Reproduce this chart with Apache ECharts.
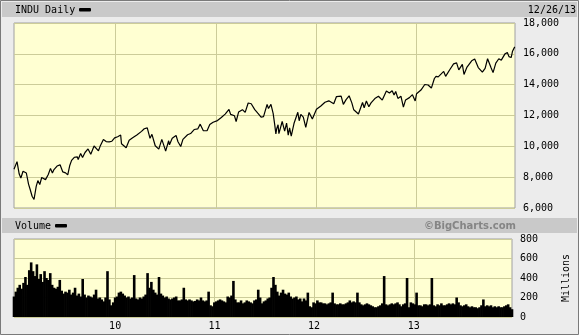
<!DOCTYPE html>
<html>
<head>
<meta charset="utf-8">
<script src="https://cdn.jsdelivr.net/npm/echarts@6/dist/echarts.min.js"></script>
<style>
html, body { margin: 0; padding: 0; background: #ececec; }
#chart { width: 579px; height: 335px; }
</style>
</head>
<body>
<div id="chart"></div>
<script>
// DJIA daily close (dates / values)
var priceDates = [
    '2008-12-26', '2008-12-31', '2009-01-06', '2009-01-14', '2009-01-20', '2009-01-28', '2009-02-09', '2009-02-17',
    '2009-02-23', '2009-03-02', '2009-03-09', '2009-03-17', '2009-03-23', '2009-03-30', '2009-04-06', '2009-04-20',
    '2009-04-30', '2009-05-08', '2009-05-15', '2009-05-20', '2009-06-01', '2009-06-12', '2009-06-22', '2009-07-02',
    '2009-07-10', '2009-07-17', '2009-07-24', '2009-08-03', '2009-08-14', '2009-08-17', '2009-08-26', '2009-09-02',
    '2009-09-11', '2009-09-22', '2009-10-02', '2009-10-14', '2009-10-19', '2009-10-30', '2009-11-05', '2009-11-17',
    '2009-11-27', '2009-12-08', '2009-12-18', '2009-12-28', '2010-01-08', '2010-01-19', '2010-01-22', '2010-02-08',
    '2010-02-19', '2010-03-05', '2010-03-19', '2010-04-05', '2010-04-15', '2010-04-26', '2010-05-06', '2010-05-13',
    '2010-05-25', '2010-06-07', '2010-06-18', '2010-06-29', '2010-07-02', '2010-07-13', '2010-07-16', '2010-07-26',
    '2010-08-09', '2010-08-16', '2010-08-26', '2010-09-03', '2010-09-20', '2010-10-01', '2010-10-14', '2010-10-27',
    '2010-11-05', '2010-11-16', '2010-11-30', '2010-12-10', '2010-12-22', '2011-01-07', '2011-01-21', '2011-02-04',
    '2011-02-18', '2011-02-24', '2011-03-10', '2011-03-16', '2011-03-25', '2011-04-08', '2011-04-18', '2011-04-29',
    '2011-05-10', '2011-05-23', '2011-06-03', '2011-06-15', '2011-06-24', '2011-07-07', '2011-07-12', '2011-07-21',
    '2011-07-29', '2011-08-04', '2011-08-08', '2011-08-11', '2011-08-16', '2011-08-19', '2011-08-31', '2011-09-09',
    '2011-09-16', '2011-09-22', '2011-09-27', '2011-10-03', '2011-10-13', '2011-10-27', '2011-11-01', '2011-11-07',
    '2011-11-16', '2011-11-25', '2011-12-07', '2011-12-19', '2012-01-03', '2012-01-19', '2012-02-03', '2012-02-17',
    '2012-03-06', '2012-03-16', '2012-04-02', '2012-04-10', '2012-04-20', '2012-05-01', '2012-05-11', '2012-05-18',
    '2012-06-04', '2012-06-19', '2012-06-25', '2012-07-03', '2012-07-12', '2012-07-20', '2012-08-03', '2012-08-16',
    '2012-08-30', '2012-09-14', '2012-09-25', '2012-10-05', '2012-10-12', '2012-10-18', '2012-10-26', '2012-11-06',
    '2012-11-15', '2012-11-23', '2012-12-07', '2012-12-18', '2012-12-28', '2013-01-02', '2013-01-18', '2013-02-01',
    '2013-02-13', '2013-02-25', '2013-03-08', '2013-03-14', '2013-03-22', '2013-04-11', '2013-04-18', '2013-05-03',
    '2013-05-17', '2013-05-28', '2013-06-05', '2013-06-12', '2013-06-18', '2013-06-24', '2013-07-05', '2013-07-22',
    '2013-08-02', '2013-08-15', '2013-08-30', '2013-09-09', '2013-09-18', '2013-09-30', '2013-10-08', '2013-10-18',
    '2013-10-29', '2013-11-07', '2013-11-21', '2013-11-29', '2013-12-05', '2013-12-13', '2013-12-18', '2013-12-26'
]
var priceValues = [
    8515, 8580, 9010, 8200, 7950, 8380, 8270, 7550,
    7200, 6760, 6550, 7400, 7780, 7520, 7980, 7840,
    8170, 8570, 8270, 8470, 8720, 8800, 8340, 8280,
    8150, 8740, 9090, 9290, 9320, 9140, 9540, 9280,
    9600, 9830, 9490, 10020, 10090, 9710, 10000, 10440,
    10310, 10290, 10330, 10550, 10620, 10730, 10170, 9910,
    10400, 10570, 10740, 10970, 11140, 11200, 10520, 10780,
    10040, 9820, 10450, 9870, 9690, 10360, 10100, 10530,
    10700, 10300, 9990, 10450, 10750, 10830, 11090, 11130,
    11440, 11020, 11010, 11410, 11560, 11670, 11870, 12090,
    12390, 12070, 11980, 11610, 12220, 12380, 12200, 12810,
    12760, 12380, 12150, 11900, 11930, 12720, 12450, 12720,
    12140, 11380, 10810, 11140, 11400, 10820, 11610, 10990,
    11510, 10730, 11190, 10660, 11480, 12210, 11660, 12070,
    11900, 11230, 12200, 11770, 12400, 12620, 12860, 12950,
    12760, 13230, 13260, 12720, 13030, 13280, 12820, 12370,
    12100, 12840, 12500, 12940, 12570, 12820, 13100, 13250,
    13000, 13590, 13460, 13610, 13330, 13560, 13110, 13250,
    12540, 13010, 13160, 13350, 12940, 13410, 13650, 14010,
    13980, 13780, 14400, 14540, 14510, 14860, 14540, 14970,
    15350, 15410, 14960, 14990, 15320, 14660, 15140, 15550,
    15660, 15110, 14810, 15060, 15680, 15130, 14780, 15400,
    15680, 15590, 16010, 16090, 15820, 15760, 16170, 16450
]

// weekly volume (millions), first week ending 2008-12-26
var volStart = '2008-12-26'
var volValues = [
    210, 260, 300, 330, 290,
    350, 410, 330, 480,
    560, 470, 420, 540, 390,
    440, 360, 470, 400,
    380, 450, 330, 300,
    290, 310, 380, 270,
    240, 260, 250, 280, 230,
    250, 300, 220, 240,
    210, 390, 230, 200,
    220, 210, 200, 230, 280,
    190, 200, 180, 160,
    200, 470, 180, 120, 150,
    200, 210, 250, 260,
    240, 220, 200, 210,
    190, 200, 430, 190,
    180, 200, 190, 210, 230,
    450, 300, 360, 280,
    250, 230, 410, 240,
    220, 200, 210, 190, 180,
    190, 200, 210, 170,
    170, 180, 300, 180,
    170, 180, 170, 160, 165,
    180, 170, 200, 170,
    160, 170, 260, 120, 110,
    150, 160, 170, 180,
    170, 160, 150, 210,
    200, 220, 370, 180,
    150, 150, 170, 140, 150,
    170, 160, 150, 140,
    170, 180, 280, 200,
    140, 160, 170, 190, 200,
    300, 410, 330, 260,
    220, 250, 280, 240, 230,
    250, 210, 190, 200,
    210, 180, 190, 160,
    190, 170, 250, 110, 100,
    150, 140, 170, 150,
    150, 140, 140, 130,
    140, 150, 250, 140, 130,
    130, 140, 130, 130,
    140, 150, 170, 150,
    160, 150, 250, 150, 130,
    120, 130, 140, 130,
    120, 110, 100, 100, 110,
    120, 140, 420, 130,
    120, 130, 140, 130,
    140, 150, 130, 110,
    130, 140, 400, 100, 150,
    140, 130, 250, 120,
    120, 110, 130, 130,
    120, 130, 400, 120, 110,
    130, 120, 140, 120,
    120, 130, 140, 130,
    140, 130, 200, 150, 120,
    110, 120, 130, 110,
    100, 110, 100, 100, 90,
    100, 120, 180, 110,
    120, 110, 120, 100, 110,
    100, 110, 100, 100,
    110, 120, 130, 100, 80
]

var yearTicks = ['2010-01-01', '2011-01-01', '2012-01-01', '2013-01-01']
var xMin = '2008-12-26'
var xMax = '2013-12-27'

var monoFont = 'DejaVu Sans Mono'
var gridColor = '#cccc99'
var plotBg = '#ffffd2'

function ts (s) {
    return +new Date(s + 'T00:00:00')
}

var priceData = priceDates.map(function (d, i) {
    return [ts(d), priceValues[i]]
})
var volData = volValues.map(function (v, i) {
    return [ts(volStart) + i * 7 * 24 * 3600 * 1000, v]
})
var tickTs = yearTicks.map(ts)

var myChart = echarts.init(document.getElementById('chart'))

// x is a plain value axis in ms, year lines come from customValues
function xAxisOf (idx, showLabel) {
    return {
        type: 'value',
        gridIndex: idx,
        min: ts(xMin),
        max: ts(xMax),
        axisLine: { show: false },
        axisTick: { show: false, customValues: tickTs },
        axisLabel: {
            show: showLabel,
            customValues: tickTs,
            margin: 4,
            fontFamily: monoFont,
            fontSize: 10,
            color: '#000',
            formatter: function (v) {
                return String(new Date(v).getFullYear()).slice(2)
            }
        },
        splitLine: { show: true, lineStyle: { color: gridColor, width: 1 } }
    }
}

var option = {
    animation: false,
    backgroundColor: '#ececec',
    graphic: [
        // outer frame and header bars
        { type: 'rect', shape: { x: 0.5, y: 0.5, width: 578, height: 334 }, style: { fill: 'none', stroke: '#7a7a7a', lineWidth: 1 }, z: 100 },
        { type: 'rect', shape: { x: 2, y: 2, width: 575, height: 15 }, style: { fill: '#c9c9c9' } },
        { type: 'rect', shape: { x: 2, y: 218, width: 575, height: 15 }, style: { fill: '#c9c9c9' } },
        { type: 'text', x: 15, y: 10, style: { text: 'INDU Daily', font: '10px ' + monoFont, fill: '#000', verticalAlign: 'middle' } },
        { type: 'rect', shape: { x: 79, y: 8, width: 12, height: 3.5, r: 1 }, style: { fill: '#000' } },
        { type: 'text', x: 576, y: 10, style: { text: '12/26/13', font: '10px ' + monoFont, fill: '#000', align: 'right', verticalAlign: 'middle' } },
        { type: 'text', x: 15, y: 226, style: { text: 'Volume', font: '10px ' + monoFont, fill: '#000', verticalAlign: 'middle' } },
        { type: 'rect', shape: { x: 55, y: 224, width: 12, height: 3.5, r: 1 }, style: { fill: '#000' } },
        { type: 'text', x: 516, y: 226, style: { text: '©BigCharts.com', font: 'bold 10px "DejaVu Sans"', fill: '#858585', align: 'right', verticalAlign: 'middle' } }
    ],
    grid: [
        { left: 14, top: 23, width: 501, height: 185, show: true, backgroundColor: plotBg, borderColor: '#a0a0a0', borderWidth: 1 },
        { left: 14, top: 239, width: 501, height: 78, show: true, backgroundColor: plotBg, borderColor: '#a0a0a0', borderWidth: 1 }
    ],
    xAxis: [xAxisOf(0, false), xAxisOf(1, true)],
    yAxis: [{
        type: 'value',
        gridIndex: 0,
        position: 'right',
        min: 6000,
        max: 18000,
        interval: 2000,
        axisLine: { show: false },
        axisTick: { show: false },
        axisLabel: {
            margin: 8,
            fontFamily: monoFont,
            fontSize: 10,
            color: '#000',
            formatter: function (v) {
                return v.toLocaleString('en-US')
            }
        },
        splitLine: { lineStyle: { color: gridColor, width: 1 } }
    }, {
        type: 'value',
        gridIndex: 1,
        position: 'right',
        min: 0,
        max: 800,
        interval: 200,
        name: 'Millions',
        nameLocation: 'middle',
        nameRotate: 90,
        nameGap: 49,
        nameTextStyle: { fontFamily: monoFont, fontSize: 10, color: '#000' },
        axisLine: { show: false },
        axisTick: { show: false },
        axisLabel: { margin: 8, fontFamily: monoFont, fontSize: 10, color: '#000' },
        splitLine: { lineStyle: { color: gridColor, width: 1 } }
    }],
    series: [{
        name: 'INDU',
        type: 'line',
        xAxisIndex: 0,
        yAxisIndex: 0,
        data: priceData,
        symbol: 'none',
        lineStyle: { color: '#000', width: 1.2 }
    }, {
        name: 'Volume',
        type: 'bar',
        xAxisIndex: 1,
        yAxisIndex: 1,
        data: volData,
        barWidth: 2.6,
        itemStyle: { color: '#000' }
    }]
}
myChart.setOption(option)
</script>
</body>
</html>
